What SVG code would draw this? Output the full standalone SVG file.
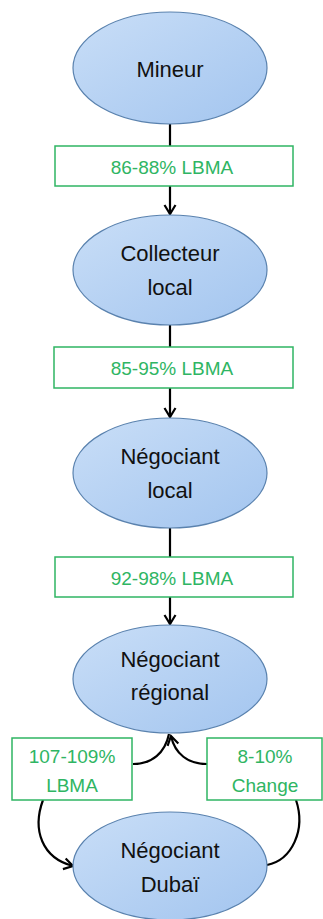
<svg xmlns="http://www.w3.org/2000/svg" width="323" height="919" viewBox="0 0 323 919">
<defs>
<linearGradient id="g" x1="0" y1="0" x2="1" y2="1">
<stop offset="0" stop-color="#c9def7"/>
<stop offset="1" stop-color="#a3c5ef"/>
</linearGradient>
<marker id="ah" viewBox="0 0 14 14" refX="12" refY="7" markerWidth="14" markerHeight="14" markerUnits="userSpaceOnUse" orient="auto">
<path d="M3 1.5 L12 7 L3 12.5" fill="none" stroke="#000" stroke-width="2.2"/>
</marker>
<style>
.n{fill:url(#g);stroke:#5a82ae;stroke-width:1.2}
.t{font-family:"Liberation Sans",Arial,sans-serif;font-size:22px;fill:#111;text-anchor:middle}
.b{fill:#fff;stroke:#2fb563;stroke-width:1.5}
.l{font-family:"Liberation Sans",Arial,sans-serif;font-size:19px;fill:#2fb563;text-anchor:middle}
.c{fill:none;stroke:#000;stroke-width:2.2}
</style>
</defs>
<rect width="323" height="919" fill="#fff"/>
<g id="connectors">
<line class="c" x1="170" y1="124" x2="170" y2="146"/>
<line class="c" x1="170" y1="186" x2="170" y2="214" marker-end="url(#ah)"/>
<line class="c" x1="170" y1="325" x2="170" y2="347"/>
<line class="c" x1="170" y1="388" x2="170" y2="417" marker-end="url(#ah)"/>
<line class="c" x1="170" y1="528" x2="170" y2="557"/>
<line class="c" x1="170" y1="597" x2="170" y2="624" marker-end="url(#ah)"/>
<path class="c" d="M169 734 C165 753 152 764 133 764"/>
<path class="c" d="M207 764 C188 764 175 754 171 736" marker-end="url(#ah)"/>
<path class="c" d="M43 800 C32 830 42 858 73 866" marker-end="url(#ah)"/>
<path class="c" d="M267 865 C292 860 306 830 296 800"/>
</g>
<g id="mineur">
<ellipse class="n" cx="170" cy="68" rx="97" ry="56"/>
<text class="t" x="170" y="77">Mineur</text>
</g>
<g id="label1">
<rect class="b" x="55" y="146" width="238" height="40"/>
<text class="l" x="172" y="174">86-88% LBMA</text>
</g>
<g id="collecteur">
<ellipse class="n" cx="170" cy="270" rx="97" ry="55"/>
<text class="t" x="170" y="261">Collecteur</text>
<text class="t" x="170" y="295">local</text>
</g>
<g id="label2">
<rect class="b" x="54" y="347" width="239" height="41"/>
<text class="l" x="172" y="375">85-95% LBMA</text>
</g>
<g id="negociant-local">
<ellipse class="n" cx="170" cy="473" rx="97" ry="55"/>
<text class="t" x="170" y="464">Négociant</text>
<text class="t" x="170" y="498">local</text>
</g>
<g id="label3">
<rect class="b" x="55" y="557" width="238" height="40"/>
<text class="l" x="172" y="585">92-98% LBMA</text>
</g>
<g id="negociant-regional">
<ellipse class="n" cx="170" cy="679" rx="97" ry="54"/>
<text class="t" x="170" y="667">Négociant</text>
<text class="t" x="170" y="700">régional</text>
</g>
<g id="label4">
<rect class="b" x="12" y="738" width="120" height="62"/>
<text class="l" x="72" y="763">107-109%</text>
<text class="l" x="72" y="792">LBMA</text>
</g>
<g id="label5">
<rect class="b" x="207" y="738" width="115" height="62"/>
<text class="l" x="265" y="763">8-10%</text>
<text class="l" x="265" y="792">Change</text>
</g>
<g id="negociant-dubai">
<ellipse class="n" cx="170" cy="866" rx="97" ry="54"/>
<text class="t" x="170" y="858">Négociant</text>
<text class="t" x="170" y="892">Dubaï</text>
</g>
</svg>
